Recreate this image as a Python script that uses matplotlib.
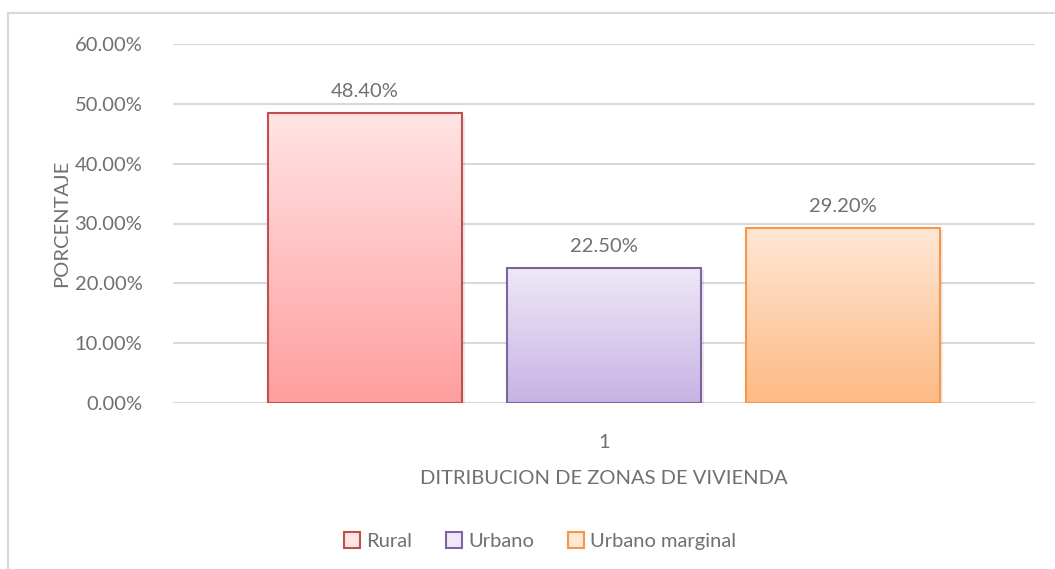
import numpy as np
import matplotlib.pyplot as plt
from matplotlib.patches import Patch
from matplotlib.lines import Line2D
from matplotlib.colors import LinearSegmentedColormap

# --- datos ---
series = ["Rural", "Urbano", "Urbano marginal"]
valores = [48.40, 22.50, 29.20]
etiquetas = ["48.40%", "22.50%", "29.20%"]
categoria = ["1"]
yticks = [0, 10, 20, 30, 40, 50, 60]

# colores (arriba, abajo, borde)
col_top = ["#FFE4E4", "#EEE8F7", "#FFE7D6"]
col_bot = ["#FF9E9E", "#C7B3E3", "#FDBA84"]
col_edge = ["#C0504D", "#8064A2", "#F79646"]

plt.rcParams['font.family'] = ['Lato', 'DejaVu Sans']
gris = "#707070"
fs = 14.5

fig = plt.figure(figsize=(10.55, 5.69), dpi=100)
ax = fig.add_axes([173/1055, 1 - 403/569, (1035-173)/1055, (403-44)/569])

pos = np.arange(len(series)) - 1
ancho = 194/239
bars = ax.bar(pos, valores, width=ancho, color="none", edgecolor=col_edge,
              linewidth=1.5, zorder=3)

grad = np.linspace(0, 1, 256).reshape(-1, 1)
for b, ct, cb in zip(bars, col_top, col_bot):
    cmap = LinearSegmentedColormap.from_list("g", [ct, cb])
    x0, y0 = b.get_x(), b.get_y()
    im = ax.imshow(grad, cmap=cmap, aspect="auto", zorder=2,
                   extent=[x0, x0 + b.get_width(), y0, y0 + b.get_height()],
                   origin="upper")
    im.set_clip_path(b)
    # sombra
    ax.bar(b.get_x() + b.get_width()/2 + 0.012, b.get_height(), width=b.get_width(),
           bottom=-0.35, color="#000000", alpha=0.08, zorder=1, linewidth=0)

for p, v, t in zip(pos, valores, etiquetas):
    ax.text(p, v + 2.2, t, ha="center", va="bottom", fontsize=fs, color=gris)

ax.set_xlim(-1.803, 1.803)
ax.set_ylim(0, 60)
ax.set_yticks(yticks)
ax.set_yticklabels([f"{v:.2f}%" for v in yticks])
ax.set_xticks([0])
ax.set_xticklabels(categoria)
ax.tick_params(axis="both", length=0, labelsize=fs, labelcolor=gris)
ax.tick_params(axis="y", pad=22)
ax.tick_params(axis="x", pad=22)
ax.yaxis.grid(True, color="#D9D9D9", linewidth=1.5, zorder=0)
ax.set_axisbelow(True)
for s in ax.spines.values():
    s.set_visible(False)

ax.set_ylabel("PORCENTAJE", fontsize=fs, color=gris, labelpad=3)
ax.set_xlabel("DITRIBUCION DE ZONAS DE VIVIENDA", fontsize=fs, color=gris, labelpad=14)

handles = [Patch(facecolor=cb, edgecolor=ce, linewidth=1.5)
           for cb, ce in zip(col_top, col_edge)]
fig.legend(handles, series, loc="center", bbox_to_anchor=(540/1055, 1 - 541/569),
           ncol=3, frameon=False, fontsize=fs, labelcolor=gris,
           handlelength=0.8, handleheight=0.8, handletextpad=0.3, columnspacing=1.7)

# marco del grafico
fig.add_artist(Line2D([8/1055, 8/1055], [0, 1 - 13/569], color="#D9D9D9", lw=1.5))
fig.add_artist(Line2D([8/1055, 1], [1 - 13/569, 1 - 13/569], color="#D9D9D9", lw=1.5))

fig.savefig("out.png", dpi=100, facecolor="white")
